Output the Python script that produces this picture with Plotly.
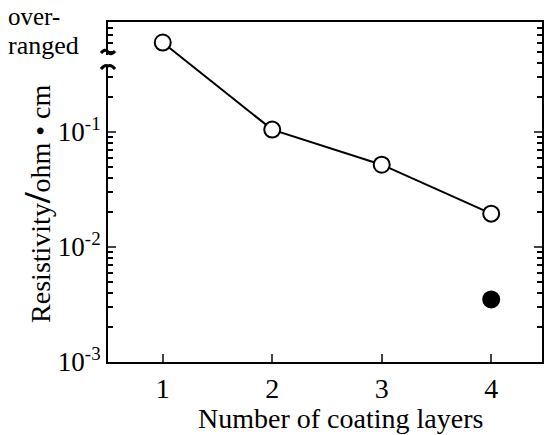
import plotly.graph_objects as go

# Data
layers = [1, 2, 3, 4]
# first value is "over-ranged" (plotted at the over-range position)
resistivity_open = [0.6, 0.105, 0.052, 0.0195]
layers_filled = [4]
resistivity_filled = [0.0035]

y_tickvals = [0.001, 0.01, 0.1]
y_ticktext = ["10<sup>-3</sup>", "10<sup>-2</sup>", "10<sup>-1</sup>"]
x_tickvals = [1, 2, 3, 4]
minor_vals = [m * 10 ** e for e in (-3, -2) for m in range(2, 10)] + [m * 0.1 for m in range(2, 10)]

FONT = "Liberation Serif"

fig = go.Figure()
fig.add_trace(go.Scatter(
    x=layers, y=resistivity_open, mode="lines+markers",
    line=dict(color="black", width=2),
    marker=dict(symbol="circle", size=16, color="white", line=dict(color="black", width=2)),
    showlegend=False,
))
fig.add_trace(go.Scatter(
    x=layers_filled, y=resistivity_filled, mode="markers",
    marker=dict(symbol="circle", size=18, color="black"),
    showlegend=False,
))

fig.update_layout(
    width=546, height=435,
    margin=dict(l=108, r=2, t=22, b=73),
    paper_bgcolor="white", plot_bgcolor="white",
    font=dict(family=FONT, color="black", size=27),
    xaxis=dict(
        range=[0.5, 4.464], tickvals=x_tickvals, ticks="inside", ticklen=8, tickwidth=2,
        showline=True, linecolor="black", linewidth=2, mirror=True,
        showgrid=False, zeroline=False, tickfont=dict(size=28),
    ),
    yaxis=dict(
        type="log", range=[-3, -0.043], tickvals=y_tickvals, ticktext=y_ticktext,
        ticks="inside", ticklen=8, tickwidth=2,
        minor=dict(tickvals=minor_vals, ticks="inside", ticklen=5, tickwidth=1.5, tickcolor="black"),
        showline=True, linecolor="black", linewidth=2, mirror="ticks",
        showgrid=False, zeroline=False, tickfont=dict(size=27),
    ),
    shapes=[
        # axis break on the left axis
        dict(type="rect", xref="paper", yref="paper", xsizemode="pixel", ysizemode="pixel",
             xanchor=0, yanchor=1, x0=-6, x1=6, y0=-33, y1=-43,
             fillcolor="white", line=dict(width=0), layer="above"),
        dict(type="path", xref="paper", yref="paper", xsizemode="pixel", ysizemode="pixel",
             xanchor=0, yanchor=1,
             path="M -7,-31 Q -3,-26 0,-30 Q 3,-34 7,-29",
             line=dict(color="black", width=3), layer="above"),
        dict(type="path", xref="paper", yref="paper", xsizemode="pixel", ysizemode="pixel",
             xanchor=0, yanchor=1,
             path="M -7,-47 Q -3,-42 0,-44 Q 3,-42 7,-47",
             line=dict(color="black", width=3), layer="above"),
    ],
    annotations=[
        dict(text="over-", xref="paper", yref="paper", x=0, y=1,
             xanchor="left", yanchor="middle", showarrow=False,
             xshift=-102, yshift=6, font=dict(size=25)),
        dict(text="ranged", xref="paper", yref="paper", x=0, y=1,
             xanchor="left", yanchor="middle", showarrow=False,
             xshift=-102, yshift=-23, font=dict(size=26)),
        dict(text='Resistivity<b><span style="font-size:38px">/</span></b>ohm • cm',
             xref="paper", yref="paper",
             x=0, y=0.465, xanchor="center", yanchor="middle", textangle=-90,
             xshift=-71, showarrow=False, font=dict(size=28)),
        dict(text="Number of coating layers", xref="paper", yref="paper",
             x=0.5, y=0, xanchor="center", yanchor="middle", showarrow=False,
             xshift=15, yshift=-56, font=dict(size=28)),
    ],
)

fig.write_html("out.html")
